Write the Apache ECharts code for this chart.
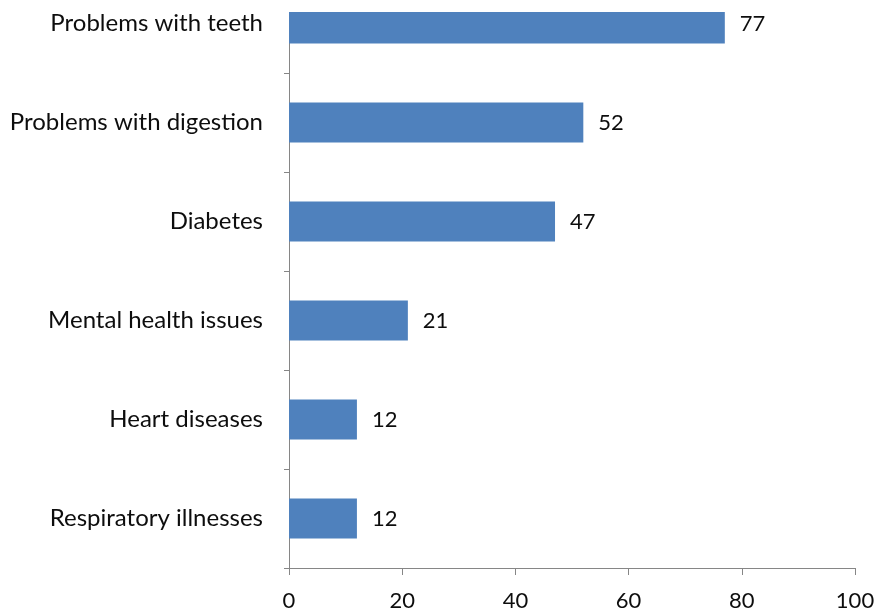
<!DOCTYPE html>
<html>
<head>
<meta charset="utf-8">
<script src="https://cdn.jsdelivr.net/npm/echarts@6/dist/echarts.min.js"></script>
<style>
  html, body { margin: 0; padding: 0; background: #fff; overflow: hidden; }
  #wrap { position: relative; width: 878px; height: 616px; overflow: hidden; }
  /* The plot starts above the visible page, so the canvas is shifted up */
  #chart { position: absolute; left: 0; top: -38px; width: 878px; height: 654px; }
</style>
</head>
<body>
<div id="wrap"><div id="chart"></div></div>
<script>
// Conditions, listed bottom-to-top as drawn by the category axis
const categories = [
  'Respiratory illnesses',
  'Heart diseases',
  'Mental health issues',
  'Diabetes',
  'Problems with digestion',
  'Problems with teeth'
];
const values = [12, 12, 21, 47, 52, 77];
const xTicks = [0, 20, 40, 60, 80, 100];

const font = 'Lato, "Open Sans", sans-serif';
const axisGray = '#868686';
const textColor = '#0d0d0d';

const chart = echarts.init(document.getElementById('chart'), null, { renderer: 'canvas' });
chart.setOption({
  animation: false,
  grid: { left: 289, right: 23, top: 12, bottom: 48, containLabel: false },
  xAxis: {
    type: 'value',
    min: xTicks[0],
    max: xTicks[xTicks.length - 1],
    interval: xTicks[1] - xTicks[0],
    axisLine: { show: true, lineStyle: { color: axisGray, width: 1 } },
    axisTick: { show: true, length: 7, lineStyle: { color: axisGray } },
    splitLine: { show: false },
    axisLabel: { color: textColor, fontSize: 22, fontFamily: font, margin: 22 }
  },
  yAxis: {
    type: 'category',
    data: categories,
    axisLine: { show: true, lineStyle: { color: axisGray, width: 1 } },
    axisTick: { show: true, length: 5, alignWithLabel: false, lineStyle: { color: axisGray } },
    axisLabel: { color: textColor, fontSize: 24, fontFamily: font, margin: 26 }
  },
  series: [{
    type: 'bar',
    data: values,
    barWidth: 40,
    itemStyle: { color: '#4F81BD' },
    label: {
      show: true,
      position: 'right',
      distance: 15,
      color: textColor,
      fontSize: 22,
      fontFamily: font
    }
  }],
  // the plot area is cut off along the top edge
  graphic: [{
    type: 'rect',
    shape: { x: 280, y: 0, width: 598, height: 50 },
    style: { fill: '#fff' },
    z: 100
  }]
});
</script>
</body>
</html>
